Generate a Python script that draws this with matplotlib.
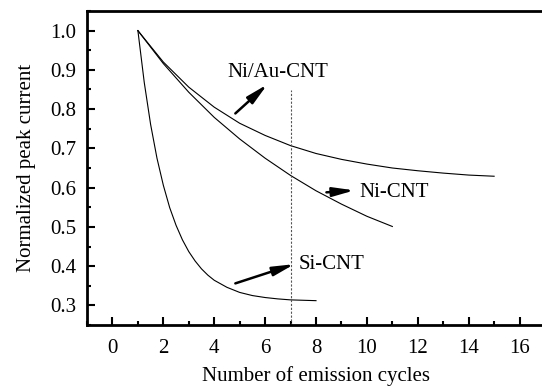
import matplotlib.pyplot as plt
from matplotlib.ticker import MultipleLocator

plt.rcParams['font.family'] = ['Liberation Serif', 'DejaVu Serif']

# values
x_niau = [1, 2, 3, 4, 5, 6, 7, 8, 9, 10, 11, 12, 13, 14, 15]
y_niau = [1.0, 0.920, 0.856, 0.805, 0.764, 0.733, 0.707, 0.687, 0.672,
          0.660, 0.650, 0.643, 0.637, 0.632, 0.629]

x_ni = [1, 2, 3, 4, 5, 6, 7, 8, 9, 10, 11]
y_ni = [1.0, 0.916, 0.843, 0.779, 0.724, 0.675, 0.631, 0.592, 0.558,
        0.527, 0.501]

x_si = [1, 1.25, 1.5, 1.75, 2, 2.25, 2.5, 2.75, 3, 3.25, 3.5, 3.75, 4,
        4.5, 5, 5.5, 6, 6.5, 7, 7.5, 8]
y_si = [1.0, 0.868, 0.761, 0.675, 0.606, 0.549, 0.504, 0.467, 0.437,
        0.413, 0.393, 0.377, 0.364, 0.346, 0.333, 0.325, 0.320, 0.3165,
        0.314, 0.313, 0.312]

fig = plt.figure(figsize=(5.42, 3.89), dpi=100)
ax = fig.add_axes([87 / 542, 64 / 389, 458 / 542, 314 / 389])

for xs, ys in [(x_niau, y_niau), (x_ni, y_ni), (x_si, y_si)]:
    ax.plot(xs, ys, color='black', lw=0.8)

ax.plot([7, 7], [0.25, 0.85], color='#555555', lw=0.8, ls=(0, (2, 1.5)))

arrow = dict(arrowstyle='-|>,head_length=0.8,head_width=0.17', color='black',
             lw=1.8, mutation_scale=16, shrinkA=0, shrinkB=0)
ax.annotate('', xy=(6.09, 0.863), xytext=(4.83, 0.789), arrowprops=arrow)
ax.annotate('', xy=(9.51, 0.593), xytext=(8.41, 0.588), arrowprops=arrow)
ax.annotate('', xy=(7.15, 0.405), xytext=(4.83, 0.356), arrowprops=arrow)
ax.text(6.5, 0.893, 'Ni/Au-CNT', fontsize=15, ha='center', va='center')
ax.text(11.07, 0.588, 'Ni-CNT', fontsize=15, ha='center', va='center')
ax.text(8.6, 0.405, 'Si-CNT', fontsize=15, ha='center', va='center')

ax.set_xlim(-1, 17)
ax.set_ylim(0.25, 1.05)
ax.xaxis.set_major_locator(MultipleLocator(2))
ax.xaxis.set_minor_locator(MultipleLocator(1))
ax.yaxis.set_major_locator(MultipleLocator(0.1))
ax.yaxis.set_minor_locator(MultipleLocator(0.05))
ax.set_xticks(range(0, 17, 2))
ax.set_xticklabels([str(v) for v in range(0, 17, 2)])
ax.set_yticks([0.3, 0.4, 0.5, 0.6, 0.7, 0.8, 0.9, 1.0])
ax.set_yticklabels(['0.3', '0.4', '0.5', '0.6', '0.7', '0.8', '0.9', '1.0'])
ax.tick_params(which='both', direction='in', top=False, right=False,
               labelsize=15, width=1.5)
ax.tick_params(axis='x', which='major', length=6, pad=10)
ax.tick_params(axis='y', which='major', length=6, pad=8)
ax.tick_params(which='minor', length=3)
ax.spines['right'].set_visible(False)
for s in ['left', 'bottom', 'top']:
    ax.spines[s].set_linewidth(2.0)

ax.set_xlabel('Number of emission cycles', fontsize=15, labelpad=6)
ax.set_ylabel('Normalized peak current', fontsize=15, labelpad=10)

fig.savefig('out.png', dpi=100)
